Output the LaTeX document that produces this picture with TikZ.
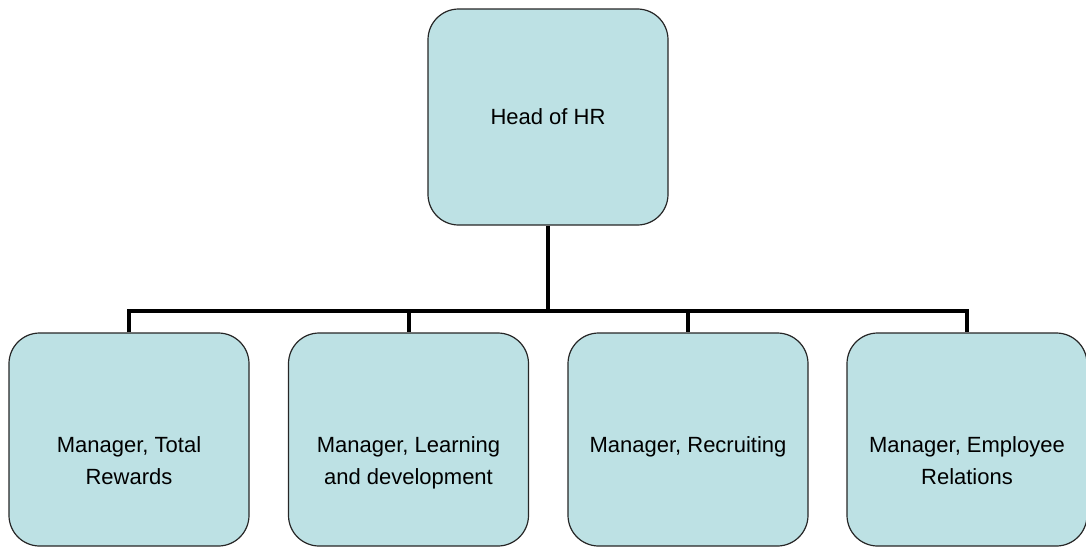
\documentclass[tikz,border=0pt]{standalone}
\usepackage{fontspec}
\setmainfont{Liberation Sans}
\usetikzlibrary{positioning}
\definecolor{boxblue}{RGB}{189,225,228}

% text of a lower box, first line at a fixed height
\newcommand{\mgrtext}[1]{\raisebox{-10pt}[0pt][0pt]{\parbox[t]{165pt}{\centering\baselineskip=23.5pt #1}}}

\begin{document}
\begin{tikzpicture}[x=0.75pt, y=-0.75pt,
		hrbox/.style={draw=black!85, line width=0.9pt, fill=boxblue, rounded corners=23pt,
			minimum width=180pt, inner sep=2pt, font=\fontsize{16.5}{19.5}\selectfont},
		conn/.style={line width=3pt, line join=miter}]
			\useasboundingbox (0,0) rectangle (1086,547);
			
			% Top of the chart
			\node[hrbox, minimum height=162pt] (head) at (548,117) {Head of HR};
			
			% Managers
			\node[hrbox, minimum height=159.75pt] (m1) at (129,439.5) {\mgrtext{Manager, Total\\Rewards}};
			\node[hrbox, minimum height=159.75pt] (m2) at (408.5,439.5) {\mgrtext{Manager, Learning\\and development}};
			\node[hrbox, minimum height=159.75pt] (m3) at (688,439.5) {\mgrtext{Manager, Recruiting}};
			\node[hrbox, minimum height=159.75pt] (m4) at (967,439.5) {\mgrtext{Manager, Employee\\Relations}};
			
			% Connectors
			\coordinate (bar) at (548,311);
			\draw[conn] (head.south) -- (bar);
			\draw[conn] (m1.north) |- (bar) -| (m4.north);
			\draw[conn] (bar -| m2.north) -- (m2.north);
			\draw[conn] (bar -| m3.north) -- (m3.north);
		\end{tikzpicture}
\end{document}
